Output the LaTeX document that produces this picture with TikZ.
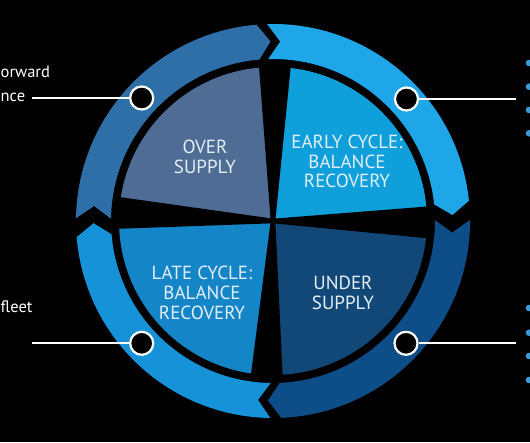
\documentclass[tikz,border=0pt]{standalone}
\usepackage{fontspec}
\setmainfont{PT Sans}
\newfontfamily\quadfont{PT Sans}
\newfontfamily\sidefont{PT Sans}
\definecolor{bgc}{HTML}{000000}
\definecolor{ringTL}{HTML}{2E6FA8}
\definecolor{ringTR}{HTML}{1EA6E8}
\definecolor{ringBR}{HTML}{0D4E88}
\definecolor{ringBL}{HTML}{1592D8}
\definecolor{quadOver}{HTML}{4E6C94}
\definecolor{quadEarly}{HTML}{0FA0DC}
\definecolor{quadLate}{HTML}{1485C6}
\definecolor{quadUnder}{HTML}{124878}
\definecolor{txtc}{HTML}{E4EEF6}
\definecolor{dotc}{HTML}{3A9AD6}
\newcommand{\ringOut}{197}
\newcommand{\ringIn}{162}
\newcommand{\ringMid}{179.5}
\newcommand{\hdDepth}{4}
% #1 colour, #2 start head-tip angle, #3 gap at start, #4 end head-tip angle
\newcommand{\ringSeg}[4]{%
  \fill[#1] ({#2+\hdDepth-#3}:\ringOut pt)
    arc[start angle={#2+\hdDepth-#3}, end angle={#4+\hdDepth}, radius=\ringOut pt]
    -- (#4:\ringMid pt)
    -- ({#4+\hdDepth}:\ringIn pt)
    arc[start angle={#4+\hdDepth}, end angle={#2+\hdDepth-#3}, radius=\ringIn pt]
    -- ({#2-#3}:\ringMid pt) -- cycle;}
\newcommand{\quadSec}[3]{%
  \fill[#1] (0,0) -- (#2:154pt) arc[start angle=#2, end angle=#3, radius=154pt] -- cycle;}
\tikzset{
  marker/.style={circle, draw=white, line width=2.2pt, fill=black, minimum size=23pt, inner sep=0pt},
  leader/.style={draw=white, line width=1.8pt},
  quadtxt/.style={text=txtc, font=\quadfont\fontsize{19}{19.7}\selectfont, align=center, inner sep=0pt},
  sidetxt/.style={text=white, font=\sidefont\fontsize{16.5}{19}\selectfont, inner sep=0pt},
  bullet/.style={fill=dotc},
  divider/.style={fill=black}
}
\begin{document}
\begin{tikzpicture}[x=1pt,y=1pt]
\fill[bgc] (0,0) rectangle (530,442);
\useasboundingbox (0,0) rectangle (530,442);
\begin{scope}[shift={(273,221)}]
  % outer ring arrows
  \ringSeg{ringTL}{180.7}{5.5}{90.8}
  \ringSeg{ringTR}{90.8}{3.1}{1.9}
  \ringSeg{ringBR}{1.9}{5.6}{-91.6}
  \ringSeg{ringBL}{-91.6}{3.2}{-179.3}
  % quadrants
  \quadSec{quadEarly}{-0.5}{89.3}
  \quadSec{quadOver}{89.3}{177}
  \quadSec{quadLate}{177}{267.7}
  \quadSec{quadUnder}{-92.3}{-0.5}
  % tapered dividers
  \foreach \a in {89.3,177,267.7,-0.5}{
    \fill[divider, rotate=\a] (-3,-2.3) -- (0,-2.3) -- (158,-16.2) -- (158,16.2) -- (0,2.3) -- (-3,2.3) -- cycle;
  }
\end{scope}
% quadrant labels
\node[quadtxt] (over) at (205,285) {OVER\\SUPPLY};
\node[quadtxt] (early) at (347,280.5) {EARLY CYCLE:\\BALANCE\\RECOVERY};
\node[quadtxt] (late) at (202,149) {LATE CYCLE:\\BALANCE\\RECOVERY};
\node[quadtxt] (under) at (343,149) {UNDER\\SUPPLY};
% markers
\node[marker] (mTL) at (141.7,344) {};
\node[marker] (mTR) at (406.5,343) {};
\node[marker] (mBL) at (141.7,98.7) {};
\node[marker] (mBR) at (406,98.7) {};
\coordinate (eTL) at (32,344);
\coordinate (eTR) at (516,343);
\coordinate (eBL) at (32,98.7);
\coordinate (eBR) at (516,98.7);
\draw[leader] (eTL) -- (mTL.west);
\draw[leader] (mTR.east) -- (eTR);
\draw[leader] (eBL) -- (mBL.west);
\draw[leader] (mBR.east) -- (eBR);
% side texts
\node[sidetxt, anchor=base west] (t1) at (0.5,364) {orward};
\node[sidetxt, anchor=base west] (t2) at (0.5,340) {nce};
\node[sidetxt, anchor=base west] (t3) at (0.5,129) {fleet};
% bullets (cut at the page edge)
\foreach \y in {379,355.3,332,308.7,134,109.3,86,62}{
  \fill[bullet] (529,\y) circle (3.3pt);
}
\end{tikzpicture}
\end{document}
